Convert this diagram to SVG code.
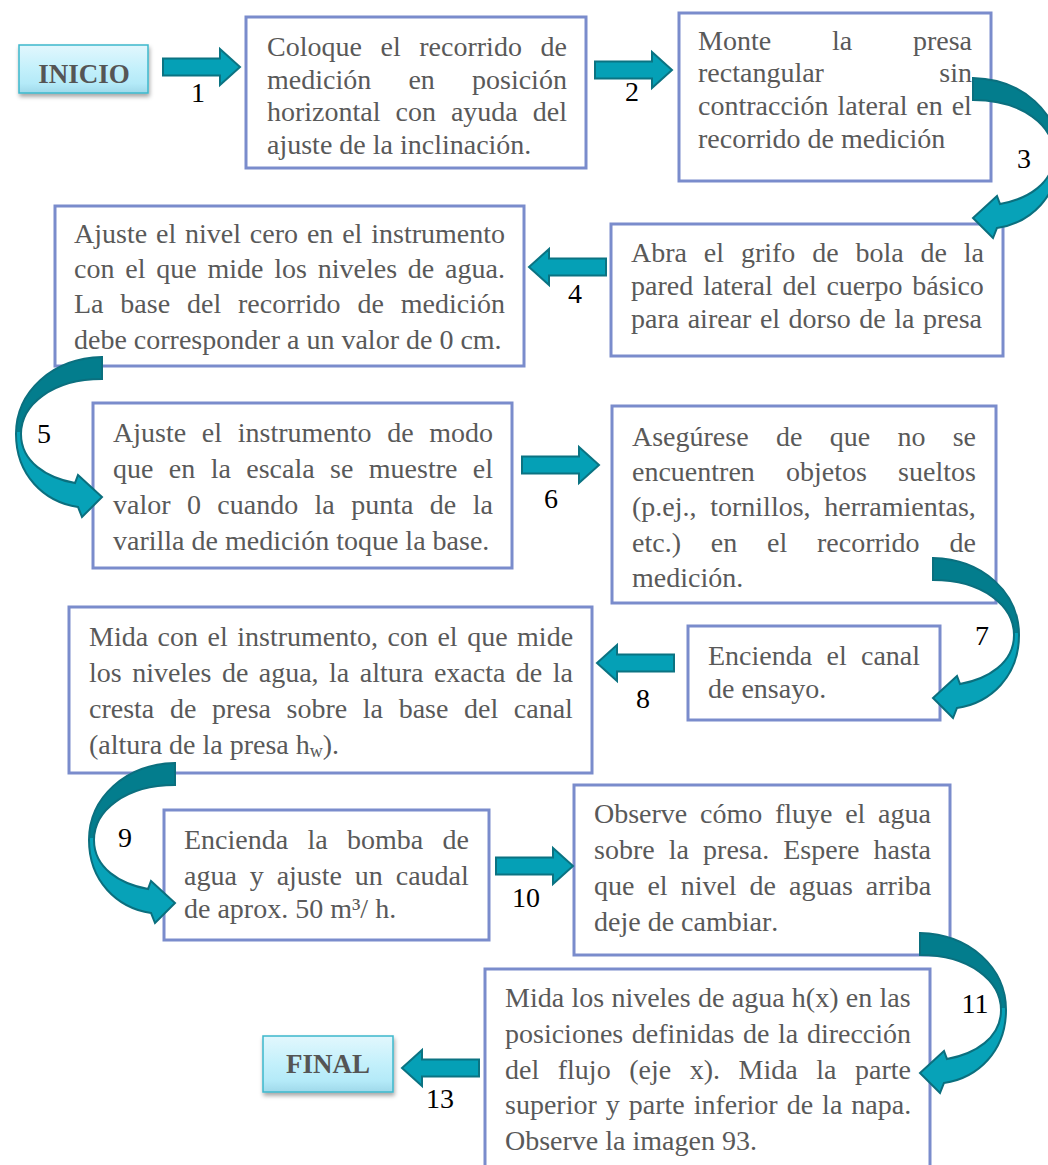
<svg xmlns="http://www.w3.org/2000/svg" width="1048" height="1165" viewBox="0 0 1048 1165">
<style>
.box{fill:#fff;stroke:#7a8ccc;stroke-width:3}
.t{font-family:"Liberation Serif","Times New Roman",serif;font-size:28px;fill:#595959;font-kerning:none}
.n{font-family:"Liberation Serif","Times New Roman",serif;font-size:28px;fill:#000;text-anchor:middle}
.term{stroke:#3cb8cc;stroke-width:1.5;fill:url(#tg)}
.tt{font-family:"Liberation Serif","Times New Roman",serif;font-size:27px;font-weight:bold;fill:#555;text-anchor:middle}
.sa{fill:#05a0b6;stroke:#0b7382;stroke-width:2}
.ca{fill:url(#cg);stroke:#0b6f7e;stroke-width:2}
</style>
<defs>
<linearGradient id="tg" x1="0" y1="0" x2="0" y2="1">
<stop offset="0" stop-color="#e2f7fd"/>
<stop offset="0.5" stop-color="#c3f0fb"/>
<stop offset="0.8" stop-color="#b4eaf8"/>
<stop offset="1" stop-color="#9fd9ea"/>
</linearGradient>
<linearGradient id="cg" x1="0" y1="0" x2="0" y2="1">
<stop offset="0.47" stop-color="#037d8d"/>
<stop offset="0.47" stop-color="#07a2b8"/>
</linearGradient>
<filter id="sh" x="-20%" y="-30%" width="140%" height="170%">
<feDropShadow dx="1" dy="3" stdDeviation="2" flood-color="#000" flood-opacity="0.35"/>
</filter>
<path id="ra" d="M0,-8.5 L57,-8.5 L57,-18 L77,0 L57,18 L57,8.5 L0,8.5 Z"/>
<path id="cr" d="M0,0 C50,1 86,35 86,77 C86,118 58,145 24,150 L20,160 L0,140 L24,118 L27,126 C55,121 81,105 81,77 C81,48 50,22 0,22 Z"/>
</defs>

<g id="inicio">
<rect class="term" x="19" y="45" width="129" height="48" filter="url(#sh)"/>
<text class="tt" x="84" y="83">INICIO</text>
</g>

<g id="paso1">
<rect class="box" x="246" y="17" width="340" height="151"/>
<text class="t" x="267" y="56" word-spacing="11.6">Coloque el recorrido de</text>
<text class="t" x="267" y="89" word-spacing="30.2">medición en posición</text>
<text class="t" x="267" y="121" word-spacing="8">horizontal con ayuda del</text>
<text class="t" x="267" y="154">ajuste de la inclinación.</text>
</g>

<g id="paso2">
<rect class="box" x="679" y="13" width="312" height="168"/>
<text class="t" x="698" y="50" word-spacing="53.8">Monte la presa</text>
<text class="t" x="698" y="82" word-spacing="108.4">rectangular sin</text>
<text class="t" x="698" y="115" word-spacing="1.9">contracción lateral en el</text>
<text class="t" x="698" y="148">recorrido de medición</text>
</g>

<g id="paso3">
<rect class="box" x="611" y="224" width="392" height="132"/>
<text class="t" x="631" y="262" word-spacing="9.85">Abra el grifo de bola de la</text>
<text class="t" x="631" y="295" word-spacing="2.7">pared lateral del cuerpo básico</text>
<text class="t" x="631" y="328" word-spacing="1.5">para airear el dorso de la presa</text>
</g>

<g id="paso4">
<rect class="box" x="55" y="206" width="469" height="160"/>
<text class="t" x="74" y="243" word-spacing="1.85">Ajuste el nivel cero en el instrumento</text>
<text class="t" x="74" y="278" word-spacing="3.8">con el que mide los niveles de agua.</text>
<text class="t" x="74" y="313" word-spacing="9.84">La base del recorrido de medición</text>
<text class="t" x="74" y="349">debe corresponder a un valor de 0 cm.</text>
</g>

<g id="paso5">
<rect class="box" x="93" y="403" width="419" height="165"/>
<text class="t" x="113" y="442" word-spacing="8.7">Ajuste el instrumento de modo</text>
<text class="t" x="113" y="478" word-spacing="8.4">que en la escala se muestre el</text>
<text class="t" x="113" y="514" word-spacing="9.4">valor 0 cuando la punta de la</text>
<text class="t" x="113" y="550">varilla de medición toque la base.</text>
</g>

<g id="paso6">
<rect class="box" x="612" y="406" width="384" height="197"/>
<text class="t" x="632" y="446" word-spacing="20.3">Asegúrese de que no se</text>
<text class="t" x="632" y="481" word-spacing="24.2">encuentren objetos sueltos</text>
<text class="t" x="632" y="516" word-spacing="6.7">(p.ej., tornillos, herramientas,</text>
<text class="t" x="632" y="552" word-spacing="22.8">etc.) en el recorrido de</text>
<text class="t" x="632" y="587">medición.</text>
</g>

<g id="paso7">
<rect class="box" x="688" y="626" width="252" height="94"/>
<text class="t" x="708" y="665" word-spacing="7.3">Encienda el canal</text>
<text class="t" x="708" y="698">de ensayo.</text>
</g>

<g id="paso8">
<rect class="box" x="69" y="607" width="523" height="166"/>
<text class="t" x="89" y="646" word-spacing="2.5">Mida con el instrumento, con el que mide</text>
<text class="t" x="89" y="682" word-spacing="3.45">los niveles de agua, la altura exacta de la</text>
<text class="t" x="89" y="718" word-spacing="8.6">cresta de presa sobre la base del canal</text>
<text class="t" x="89" y="754">(altura de la presa h<tspan font-size="18" dy="3">w</tspan><tspan dy="-3">).</tspan></text>
</g>

<g id="paso9">
<rect class="box" x="164" y="810" width="325" height="130"/>
<text class="t" x="184" y="849" word-spacing="12.3">Encienda la bomba de</text>
<text class="t" x="184" y="885" word-spacing="5.9">agua y ajuste un caudal</text>
<text class="t" x="184" y="918">de aprox. 50 m³/ h.</text>
</g>

<g id="paso10">
<rect class="box" x="574" y="785" width="376" height="170"/>
<text class="t" x="594" y="823" word-spacing="5.7">Observe cómo fluye el agua</text>
<text class="t" x="594" y="859" word-spacing="7.1">sobre la presa. Espere hasta</text>
<text class="t" x="594" y="895" word-spacing="6">que el nivel de aguas arriba</text>
<text class="t" x="594" y="931">deje de cambiar.</text>
</g>

<g id="paso11">
<rect class="box" x="485" y="969" width="445" height="210"/>
<text class="t" x="505" y="1007" word-spacing="0.3">Mida los niveles de agua h(x) en las</text>
<text class="t" x="505" y="1043" word-spacing="1.6">posiciones definidas de la dirección</text>
<text class="t" x="505" y="1079" word-spacing="11.55">del flujo (eje x). Mida la parte</text>
<text class="t" x="505" y="1114" word-spacing="2">superior y parte inferior de la napa.</text>
<text class="t" x="505" y="1150">Observe la imagen 93.</text>
</g>

<g id="final">
<rect class="term" x="263" y="1036" width="130" height="56" filter="url(#sh)"/>
<text class="tt" x="328" y="1073">FINAL</text>
</g>

<g id="connectors">
<use href="#ra" class="sa" transform="translate(163,67)"/>
<use href="#ra" class="sa" transform="translate(595,70)"/>
<use href="#cr" class="ca" transform="translate(973,78)"/>
<use href="#ra" class="sa" transform="translate(606,267) scale(-1,1)"/>
<use href="#cr" class="ca" transform="translate(102,357) scale(-1,1)"/>
<use href="#ra" class="sa" transform="translate(522,465)"/>
<use href="#cr" class="ca" transform="translate(933,558)"/>
<use href="#ra" class="sa" transform="translate(674,663) scale(-1,1)"/>
<use href="#cr" class="ca" transform="translate(175,763) scale(-1,1)"/>
<use href="#ra" class="sa" transform="translate(496,866)"/>
<use href="#cr" class="ca" transform="translate(920,933)"/>
<use href="#ra" class="sa" transform="translate(479,1068) scale(-1,1)"/>
<text class="n" x="198" y="102">1</text>
<text class="n" x="632" y="101">2</text>
<text class="n" x="1024" y="168">3</text>
<text class="n" x="575" y="303">4</text>
<text class="n" x="44" y="443">5</text>
<text class="n" x="551" y="508">6</text>
<text class="n" x="982" y="645">7</text>
<text class="n" x="643" y="708">8</text>
<text class="n" x="125" y="847">9</text>
<text class="n" x="526" y="907">10</text>
<text class="n" x="975" y="1013">11</text>
<text class="n" x="440" y="1108">13</text>
</g>
</svg>
